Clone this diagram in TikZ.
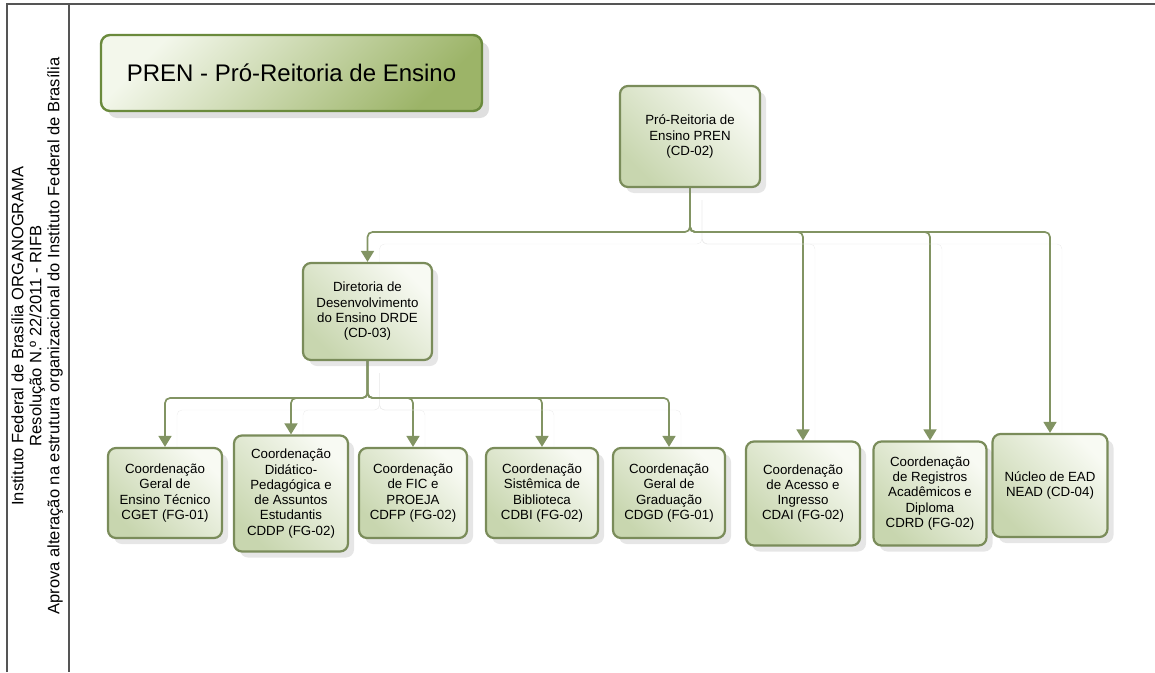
\documentclass[tikz,border=0pt]{standalone}
\usepackage{fontspec}
\setmainfont{Liberation Sans}
\usepackage{xcolor}
\usetikzlibrary{arrows.meta, shadows, backgrounds, positioning}
\definecolor{boxline}{HTML}{7A8C5A}
\definecolor{boxlight}{HTML}{F8FAF3}
\definecolor{boxdark}{HTML}{C8D6AF}
\definecolor{titlelight}{HTML}{F3F7EB}
\definecolor{titledark}{HTML}{9CB468}
\definecolor{titleline}{HTML}{6A8A3C}
\definecolor{linegreen}{HTML}{829463}
\definecolor{framegray}{HTML}{555555}

\begin{document}
\begin{tikzpicture}[x=1pt,y=-1pt,
  unit/.style={draw=boxline, line width=2.2pt, rounded corners=8pt,
    top color=boxlight, bottom color=boxdark, shading angle=-45,
    drop shadow={opacity=0.2, shadow xshift=6pt, shadow yshift=-6pt},
    align=center, inner sep=0pt, font=\fontsize{13.3}{15.3}\selectfont},
  conn/.style={draw=linegreen, line width=1.7pt, rounded corners=5pt,
    -{Triangle[width=13pt,length=11pt]},
    preaction={draw=black!7, arrows=-, transform canvas={shift={(12pt,-12pt)}}}}]
\useasboundingbox (0,0) rectangle (1155,672);
\draw[framegray, line width=1.5pt] (7,672) -- (7,4) -- (1155,4);
\draw[framegray, line width=1.5pt] (69,4) -- (69,672);
\node[rotate=90, align=center, font=\fontsize{16.5}{18}\selectfont] (side) at (37,336)
  {Instituto Federal de Brasília ORGANOGRAMA\\Resolução N.º 22/2011 - RIFB\\
   Aprova alteração na estrutura organizacional do Instituto Federal de Brasília};

\node[draw=titleline, line width=2.4pt, rounded corners=9pt,
  top color=titlelight, bottom color=titledark, shading angle=45,
  drop shadow={opacity=0.25, shadow xshift=7pt, shadow yshift=-7pt},
  minimum width=381pt, minimum height=76pt, font=\fontsize{24}{28}\selectfont]
  (title) at (291.5,73) {PREN - Pró-Reitoria de Ensino};

% direction
\node[unit, minimum width=140pt, minimum height=101pt] (pren) at (690,136.5)
  {Pró-Reitoria de\\Ensino PREN\\(CD-02)};
\node[unit, minimum width=129pt, minimum height=97pt] (drde) at (367.5,311.5)
  {Diretoria de\\Desenvolvimento\\do Ensino DRDE\\(CD-03)};

% coordinations
\node[unit, minimum width=114pt, minimum height=90pt] (cget) at (165,493)
  {Coordenação\\Geral de\\Ensino Técnico\\CGET (FG-01)};
\node[unit, minimum width=114pt, minimum height=116pt] (cddp) at (291,493.5)
  {Coordenação\\Didático-\\Pedagógica e\\de Assuntos\\Estudantis\\CDDP (FG-02)};
\node[unit, minimum width=108pt, minimum height=90pt] (cdfp) at (413,493)
  {Coordenação\\de FIC e\\PROEJA\\CDFP (FG-02)};
\node[unit, minimum width=112pt, minimum height=90pt] (cdbi) at (542,493)
  {Coordenação\\Sistêmica de\\Biblioteca\\CDBI (FG-02)};
\node[unit, minimum width=112pt, minimum height=90pt] (cdgd) at (669,493)
  {Coordenação\\Geral de\\Graduação\\CDGD (FG-01)};
\node[unit, minimum width=114pt, minimum height=104pt] (cdai) at (803,493.5)
  {Coordenação\\de Acesso e\\Ingresso\\CDAI (FG-02)};
\node[unit, minimum width=113pt, minimum height=104pt] (cdrd) at (930,493.5)
  {Coordenação\\de Registros\\Acadêmicos e\\Diploma\\CDRD (FG-02)};
\node[unit, minimum width=115pt, minimum height=103pt] (nead) at (1050,485.5)
  {Núcleo de EAD\\NEAD (CD-04)};

\path coordinate (topbus) at (690,232)
      coordinate (lowbus) at (367.5,398);
\begin{scope}[on background layer]
\foreach \u in {drde,cdai,cdrd,nead}
  \draw[conn] (pren.south) -- (topbus) -| (\u.north);
\foreach \u in {cget,cddp,cdfp,cdbi,cdgd}
  \draw[conn] (drde.south) -- (lowbus) -| (\u.north);
\end{scope}
\end{tikzpicture}
\end{document}
